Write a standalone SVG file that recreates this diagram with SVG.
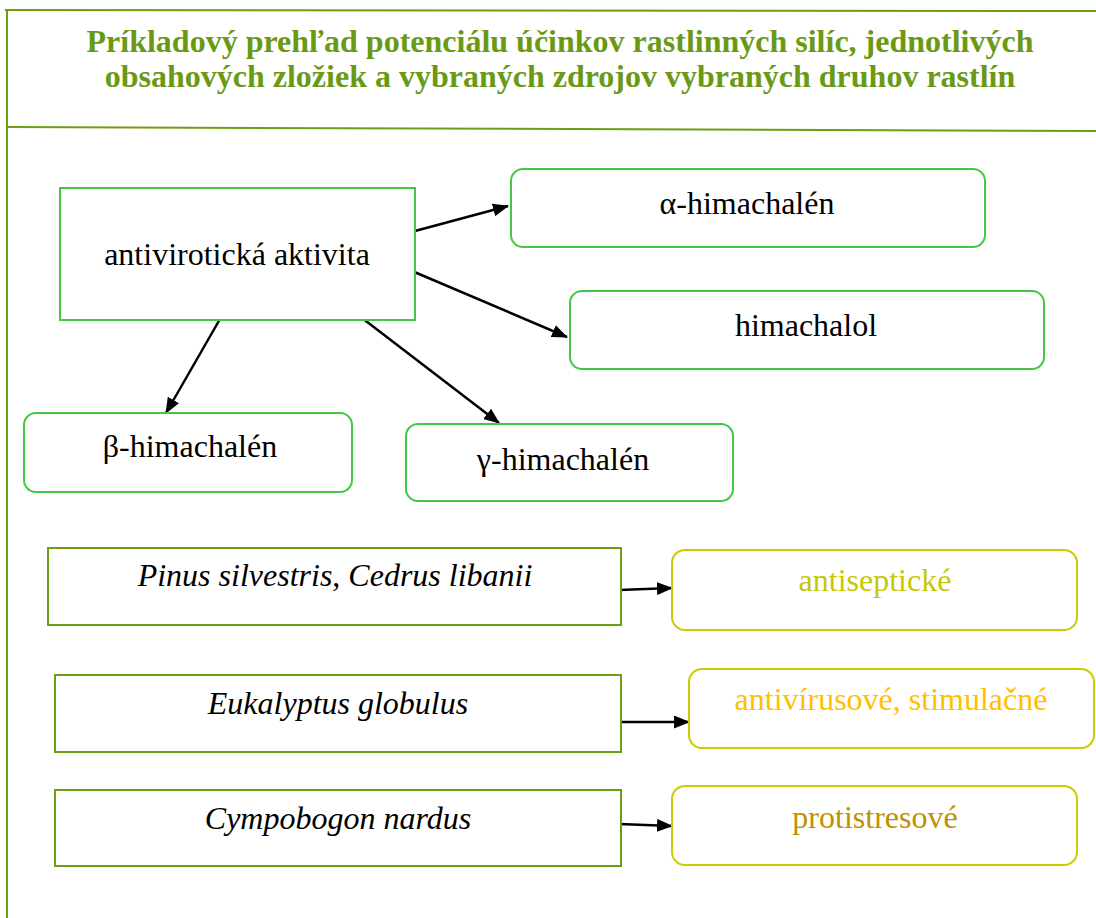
<svg xmlns="http://www.w3.org/2000/svg" width="1096" height="918" viewBox="0 0 1096 918">
  <style>
    .frame { stroke: #6f9e12; stroke-width: 2; fill: none; }
    .title { font-family: "Liberation Serif", "Times New Roman", serif; font-weight: bold; font-size: 32px; fill: #6a9a14; text-anchor: middle; }
    .chem { fill: #ffffff; stroke: #44c844; stroke-width: 2; }
    .plant { fill: #ffffff; stroke: #6f9e12; stroke-width: 2; }
    .effect { fill: #ffffff; stroke: #cccc00; stroke-width: 2; }
    .lbl { font-family: "Liberation Serif", "Times New Roman", serif; font-size: 32px; fill: #000000; text-anchor: middle; }
    .ital { font-style: italic; }
    .edge { stroke: #000000; stroke-width: 2.5; fill: none; marker-end: url(#arrow); }
  </style>
  <defs>
    <marker id="arrow" viewBox="0 0 16 13" refX="15" refY="6.5" markerWidth="16" markerHeight="13" orient="auto" markerUnits="userSpaceOnUse">
      <path d="M0,0 L16,6.5 L0,13 z" fill="#000000"/>
    </marker>
  </defs>

  <rect width="1096" height="918" fill="#ffffff"/>

  <!-- page frame and header -->
  <g id="frame">
    <line class="frame" x1="5" y1="10" x2="1096" y2="11"/>
    <line class="frame" x1="7" y1="10" x2="7" y2="918"/>
    <line class="frame" x1="7" y1="127" x2="1096" y2="131"/>
  </g>
  <g id="title">
    <text class="title" x="560" y="52">Príkladový prehľad potenciálu účinkov rastlinných silíc, jednotlivých</text>
    <text class="title" x="560" y="87">obsahových zložiek a vybraných zdrojov vybraných druhov rastlín</text>
  </g>

  <!-- connectors -->
  <g id="connectors">
    <line class="edge" x1="415" y1="231" x2="508" y2="206"/>
    <line class="edge" x1="412" y1="271" x2="567" y2="337"/>
    <line class="edge" x1="220" y1="319" x2="166" y2="413"/>
    <line class="edge" x1="362" y1="318" x2="499" y2="423"/>
    <line class="edge" x1="619" y1="590" x2="672" y2="588"/>
    <line class="edge" x1="619" y1="722" x2="689" y2="722"/>
    <line class="edge" x1="619" y1="824" x2="672" y2="826"/>
  </g>

  <!-- activity and its constituents -->
  <g id="n-antiviral">
    <rect class="chem" x="60" y="188" width="355" height="132"/>
    <text class="lbl" x="237" y="265">antivirotická aktivita</text>
  </g>
  <g id="n-alpha">
    <rect class="chem" x="511" y="169" width="474" height="78" rx="12"/>
    <text class="lbl" x="747" y="214">α-himachalén</text>
  </g>
  <g id="n-himachalol">
    <rect class="chem" x="570" y="291" width="474" height="78" rx="12"/>
    <text class="lbl" x="806" y="336">himachalol</text>
  </g>
  <g id="n-beta">
    <rect class="chem" x="24" y="413" width="328" height="79" rx="12"/>
    <text class="lbl" x="190" y="457">β-himachalén</text>
  </g>
  <g id="n-gamma">
    <rect class="chem" x="406" y="424" width="327" height="77" rx="12"/>
    <text class="lbl" x="563" y="470">γ-himachalén</text>
  </g>

  <!-- plant sources -->
  <g id="n-pinus">
    <rect class="plant" x="48" y="548" width="573" height="77"/>
    <text class="lbl" x="335" y="586"><tspan class="ital">Pinus silvestris</tspan>, <tspan class="ital">Cedrus libanii</tspan></text>
  </g>
  <g id="n-eukalyptus">
    <rect class="plant" x="55" y="675" width="566" height="77"/>
    <text class="lbl ital" x="338" y="714">Eukalyptus globulus</text>
  </g>
  <g id="n-cympobogon">
    <rect class="plant" x="55" y="790" width="566" height="76"/>
    <text class="lbl ital" x="338" y="829">Cympobogon nardus</text>
  </g>

  <!-- effects -->
  <g id="n-antiseptic">
    <rect class="effect" x="672" y="550" width="405" height="80" rx="13"/>
    <text class="lbl" x="875" y="591" style="fill:#c8c800">antiseptické</text>
  </g>
  <g id="n-antivirus">
    <rect class="effect" x="689" y="669" width="405" height="79" rx="13"/>
    <text class="lbl" x="891" y="710" style="fill:#ffc000">antivírusové, stimulačné</text>
  </g>
  <g id="n-antistress">
    <rect class="effect" x="672" y="786" width="405" height="79" rx="13"/>
    <text class="lbl" x="875" y="828" style="fill:#bf9000">protistresové</text>
  </g>
</svg>
